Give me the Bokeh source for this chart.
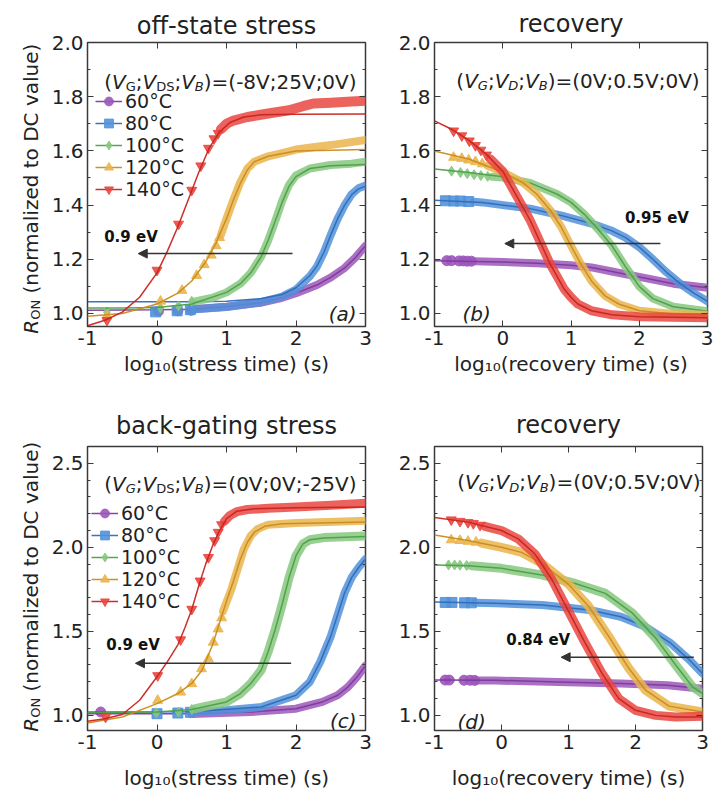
import math
from bokeh.plotting import figure
from bokeh.models import (Range1d, FixedTicker, LinearAxis, Label, Arrow, NormalHead,
                          Legend, LegendItem, PrintfTickFormatter)
from bokeh.layouts import column, row
from bokeh.embed import file_html
from bokeh.resources import INLINE

# ---------------- data ----------------
TEMPS = ["60°C", "80°C", "100°C", "120°C", "140°C"]
COLORS = ["#9C57BA", "#5292DA", "#86C87F", "#EAB54E", "#E9473F"]
FIT_COLORS = ["#7B3B9C", "#2E6DB8", "#4F9E4B", "#C98C1C", "#C9231E"]
MARKERS = ["circle", "square", "diamond", "triangle", "inverted_triangle"]

X_TICKS = [-1, 0, 1, 2, 3]
Y_TICKS_TOP = [1.0, 1.2, 1.4, 1.6, 1.8, 2.0]
Y_MINOR_TOP = [1.1, 1.3, 1.5, 1.7, 1.9]
Y_TICKS_BOT = [1.0, 1.5, 2.0, 2.5]
Y_MINOR_BOT = [1.1, 1.2, 1.3, 1.4, 1.6, 1.7, 1.8, 1.9, 2.1, 2.2, 2.3, 2.4]

# (a) off-state stress
A60_FIT = [(-1, 1.012), (0, 1.014), (0.5, 1.016), (1.0, 1.025), (1.5, 1.04), (1.8, 1.058), (2.0, 1.075),
           (2.3, 1.105), (2.5, 1.133), (2.7, 1.168), (2.85, 1.205), (3.0, 1.25)]
A60_MARK = [(0.02, 1.008), (0.3, 1.01), (0.49, 1.012)]
A60_BAND = [(0.5, 1.016), (1.0, 1.025), (1.5, 1.04), (1.8, 1.058), (2.0, 1.075), (2.3, 1.105), (2.5, 1.133),
            (2.7, 1.168), (2.85, 1.205), (3.0, 1.25)]
A80_FIT = [(-1, 1.043), (0.5, 1.043), (1.0, 1.045), (1.5, 1.055), (1.8, 1.07), (2.0, 1.095), (2.2, 1.14),
           (2.3, 1.175), (2.4, 1.225), (2.5, 1.29), (2.6, 1.35), (2.7, 1.4), (2.8, 1.438), (2.9, 1.46), (3.0, 1.47)]
A80_MARK = [(-0.02, 1.006), (0.29, 1.01), (0.48, 1.014)]
A80_BAND = [(0.55, 1.016), (1.0, 1.024), (1.5, 1.042), (1.8, 1.062), (2.0, 1.088), (2.2, 1.138), (2.3, 1.172),
            (2.4, 1.225), (2.5, 1.29), (2.6, 1.35), (2.7, 1.4), (2.8, 1.44), (2.9, 1.462), (3.0, 1.472)]
A100_FIT = [(-1, 1.02), (-0.5, 1.02), (0, 1.022), (0.5, 1.035), (1.0, 1.078), (1.2, 1.11), (1.35, 1.15),
            (1.5, 1.21), (1.6, 1.27), (1.7, 1.34), (1.8, 1.41), (1.9, 1.47), (2.0, 1.505), (2.2, 1.535),
            (2.5, 1.545), (3.0, 1.55)]
A100_MARK = [(-0.72, 1.005), (0.05, 1.02), (0.31, 1.028), (0.5, 1.045)]
A100_BAND = [(0.55, 1.045), (0.8, 1.058), (1.0, 1.078), (1.2, 1.11), (1.35, 1.15), (1.5, 1.21), (1.6, 1.27),
             (1.7, 1.34), (1.8, 1.415), (1.9, 1.475), (2.0, 1.51), (2.2, 1.535), (2.5, 1.548), (2.8, 1.553),
             (3.0, 1.56)]
A120_FIT = [(-1, 0.99), (-0.5, 1.0), (0, 1.035), (0.3, 1.075), (0.5, 1.12), (0.7, 1.19), (0.85, 1.26),
            (1.0, 1.35), (1.1, 1.42), (1.2, 1.48), (1.3, 1.53), (1.4, 1.56), (1.6, 1.58), (2.0, 1.6), (3.0, 1.605)]
A120_MARK = [(-0.72, 0.99), (0.05, 1.045), (0.36, 1.085), (0.57, 1.14), (0.68, 1.18), (0.78, 1.215),
             (0.85, 1.25), (0.9, 1.28)]
A120_BAND = [(0.92, 1.29), (1.0, 1.35), (1.1, 1.42), (1.2, 1.485), (1.3, 1.535), (1.4, 1.56), (1.6, 1.58),
             (1.8, 1.592), (2.0, 1.605), (2.3, 1.615), (2.6, 1.625), (3.0, 1.64)]
A140_FIT = [(-1, 0.955), (-0.75, 0.975), (-0.5, 1.005), (-0.25, 1.06), (0, 1.15), (0.15, 1.23), (0.3, 1.32),
            (0.45, 1.42), (0.6, 1.52), (0.75, 1.61), (0.9, 1.67), (1.05, 1.705), (1.25, 1.725), (1.5, 1.733),
            (2.0, 1.735), (3.0, 1.736)]
A140_MARK = [(-0.72, 0.975), (0.0, 1.16), (0.31, 1.33), (0.5, 1.455), (0.63, 1.545), (0.74, 1.61),
             (0.82, 1.645), (0.88, 1.665)]
A140_BAND = [(0.92, 1.68), (1.0, 1.7), (1.1, 1.712), (1.3, 1.725), (1.6, 1.738), (1.9, 1.75), (2.1, 1.765),
             (2.25, 1.775), (2.5, 1.778), (2.8, 1.782), (3.0, 1.785)]

# (b) recovery after off-state stress
B60_FIT = [(-1, 1.195), (0, 1.19), (0.5, 1.185), (1.0, 1.178), (1.3, 1.17), (1.6, 1.155), (2.0, 1.135),
           (2.5, 1.11), (3.0, 1.095)]
B60_MARK = [(-0.82, 1.195), (-0.75, 1.195), (-0.64, 1.194), (-0.58, 1.194), (-0.52, 1.193), (-0.46, 1.193)]
B60_BAND = [(-0.42, 1.193), (0, 1.19), (0.5, 1.185), (1.0, 1.178), (1.3, 1.17), (1.6, 1.155), (2.0, 1.135),
            (2.5, 1.11), (3.0, 1.095)]
B80_FIT = [(-1, 1.418), (-0.3, 1.41), (0.4, 1.387), (0.85, 1.362), (1.3, 1.332), (1.6, 1.305), (1.8, 1.28),
           (2.0, 1.245), (2.2, 1.2), (2.4, 1.152), (2.6, 1.11), (2.8, 1.075), (3.0, 1.045)]
B80_MARK = [(-0.84, 1.416), (-0.72, 1.415), (-0.62, 1.415), (-0.5, 1.413)]
B80_BAND = [(-0.42, 1.412), (-0.3, 1.41), (0.4, 1.387), (0.85, 1.362), (1.3, 1.332), (1.6, 1.305), (1.8, 1.28),
            (2.0, 1.245), (2.2, 1.2), (2.4, 1.152), (2.6, 1.11), (2.8, 1.075), (3.0, 1.045)]
B100_FIT = [(-1, 1.533), (-0.5, 1.52), (0, 1.505), (0.4, 1.482), (0.8, 1.44), (1.0, 1.41), (1.2, 1.365),
            (1.4, 1.31), (1.6, 1.25), (1.8, 1.172), (2.0, 1.1), (2.2, 1.055), (2.5, 1.025), (3.0, 1.008)]
B100_MARK = [(-0.75, 1.525), (-0.62, 1.52), (-0.52, 1.516), (-0.42, 1.512), (-0.32, 1.509), (-0.22, 1.506)]
B100_BAND = [(-0.15, 1.505), (0, 1.502), (0.4, 1.482), (0.8, 1.44), (1.0, 1.41), (1.2, 1.365), (1.4, 1.31),
             (1.6, 1.25), (1.8, 1.172), (2.0, 1.1), (2.2, 1.055), (2.5, 1.025), (3.0, 1.008)]
B120_FIT = [(-1, 1.6), (-0.5, 1.57), (0, 1.522), (0.3, 1.482), (0.5, 1.44), (0.7, 1.38), (0.85, 1.322),
            (1.0, 1.25), (1.15, 1.18), (1.3, 1.12), (1.5, 1.065), (1.7, 1.035), (2.0, 1.01), (2.5, 0.998),
            (3.0, 0.995)]
B120_MARK = [(-0.72, 1.576), (-0.6, 1.572), (-0.5, 1.566), (-0.4, 1.56), (-0.3, 1.552)]
B120_BAND = [(-0.22, 1.545), (0, 1.522), (0.3, 1.482), (0.5, 1.44), (0.7, 1.38), (0.85, 1.322), (1.0, 1.25),
             (1.15, 1.18), (1.3, 1.12), (1.5, 1.065), (1.7, 1.035), (2.0, 1.01), (2.5, 0.998), (3.0, 0.995)]
B140_FIT = [(-1, 1.711), (-0.75, 1.68), (-0.5, 1.64), (-0.25, 1.59), (0, 1.525), (0.1, 1.48), (0.2, 1.435),
            (0.3, 1.39), (0.4, 1.345), (0.5, 1.29), (0.6, 1.235), (0.7, 1.18), (0.8, 1.135), (0.9, 1.09),
            (1.0, 1.06), (1.1, 1.035), (1.3, 1.01), (1.6, 0.995), (2.0, 0.988), (3.0, 0.984)]
B140_MARK = [(-0.72, 1.674), (-0.6, 1.656), (-0.49, 1.637), (-0.4, 1.62), (-0.32, 1.603), (-0.24, 1.585)]
B140_BAND = [(-0.18, 1.57), (0, 1.525), (0.1, 1.48), (0.2, 1.435), (0.3, 1.39), (0.4, 1.345), (0.5, 1.29),
             (0.6, 1.235), (0.7, 1.18), (0.8, 1.135), (0.9, 1.09), (1.0, 1.06), (1.1, 1.035), (1.3, 1.01),
             (1.6, 0.995), (2.0, 0.988), (3.0, 0.984)]

# (c) back-gating stress
C60_FIT = [(-1, 1.01), (0.5, 1.01), (1.35, 1.02), (2.0, 1.04), (2.38, 1.08), (2.6, 1.12), (2.75, 1.17),
           (2.88, 1.23), (3.0, 1.296)]
C60_MARK = [(-0.81, 1.02)]
C60_BAND = [(0.5, 1.008), (1.35, 1.02), (2.0, 1.04), (2.38, 1.08), (2.6, 1.12), (2.75, 1.17), (2.88, 1.23),
            (3.0, 1.296)]
C80_FIT = [(-1, 1.02), (0.5, 1.022), (1.5, 1.05), (2.0, 1.12), (2.2, 1.2), (2.35, 1.32), (2.5, 1.47),
           (2.6, 1.6), (2.7, 1.73), (2.8, 1.82), (2.9, 1.88), (3.0, 1.93)]
C80_MARK = [(0.0, 1.01), (0.3, 1.014), (0.48, 1.018)]
C80_BAND = [(0.55, 1.02), (1.0, 1.03), (1.5, 1.05), (2.0, 1.12), (2.2, 1.2), (2.35, 1.32), (2.5, 1.47),
            (2.6, 1.6), (2.7, 1.73), (2.8, 1.82), (2.9, 1.88), (3.0, 1.93)]
C100_FIT = [(-1, 1.015), (0, 1.02), (0.5, 1.035), (1.0, 1.08), (1.2, 1.13), (1.35, 1.19), (1.5, 1.27),
            (1.6, 1.38), (1.7, 1.51), (1.8, 1.66), (1.9, 1.82), (2.0, 1.95), (2.1, 2.02), (2.2, 2.045),
            (2.4, 2.055), (3.0, 2.065)]
C100_MARK = [(-0.01, 1.015), (0.31, 1.02), (0.5, 1.035)]
C100_BAND = [(0.55, 1.04), (1.0, 1.08), (1.2, 1.13), (1.35, 1.19), (1.5, 1.27), (1.6, 1.38), (1.7, 1.51),
             (1.8, 1.66), (1.9, 1.82), (2.0, 1.95), (2.1, 2.02), (2.2, 2.045), (2.4, 2.058), (3.0, 2.068)]
C120_FIT = [(-1, 0.955), (-0.5, 0.99), (0, 1.07), (0.3, 1.13), (0.5, 1.19), (0.65, 1.27), (0.8, 1.42),
            (0.9, 1.55), (1.0, 1.68), (1.1, 1.8), (1.2, 1.93), (1.3, 2.03), (1.4, 2.09), (1.55, 2.125),
            (1.8, 2.14), (3.0, 2.15)]
C120_MARK = [(0.01, 1.089), (0.34, 1.138), (0.5, 1.188), (0.64, 1.277), (0.74, 1.336), (0.81, 1.435),
             (0.88, 1.514), (0.93, 1.58)]
C120_BAND = [(0.95, 1.62), (1.07, 1.75), (1.16, 1.87), (1.25, 1.99), (1.35, 2.07), (1.45, 2.11),
             (1.6, 2.135), (2.0, 2.145), (3.0, 2.158)]
C140_FIT = [(-1, 0.965), (-0.75, 0.98), (-0.5, 1.005), (-0.25, 1.09), (0, 1.23), (0.15, 1.32), (0.3, 1.42),
            (0.4, 1.52), (0.5, 1.63), (0.6, 1.77), (0.7, 1.9), (0.8, 2.01), (0.9, 2.1), (1.0, 2.17),
            (1.15, 2.215), (1.4, 2.23), (2.0, 2.235), (3.0, 2.24)]
C140_MARK = [(-0.74, 0.99), (0.01, 1.237), (0.34, 1.45), (0.5, 1.632), (0.62, 1.8), (0.74, 1.94),
             (0.83, 2.04), (0.88, 2.09), (0.93, 2.135)]
C140_BAND = [(0.97, 2.155), (1.05, 2.19), (1.15, 2.212), (1.3, 2.225), (1.6, 2.232), (2.0, 2.24),
             (2.5, 2.25), (3.0, 2.262)]

# (d) recovery after back-gating stress
D60_FIT = [(-1, 1.21), (-0.09, 1.209), (0.84, 1.199), (1.78, 1.189), (2.48, 1.179), (3.0, 1.159)]
D60_MARK = [(-0.84, 1.21), (-0.78, 1.21), (-0.56, 1.209), (-0.47, 1.209), (-0.4, 1.208)]
D60_BAND = [(-0.36, 1.208), (-0.09, 1.207), (0.84, 1.199), (1.78, 1.189), (2.48, 1.179), (3.0, 1.159)]
D80_FIT = [(-1, 1.675), (-0.09, 1.667), (0.61, 1.657), (1.31, 1.627), (1.78, 1.587), (2.15, 1.527),
           (2.53, 1.428), (2.81, 1.328), (3.0, 1.249)]
D80_MARK = [(-0.84, 1.672), (-0.74, 1.672), (-0.55, 1.67), (-0.45, 1.67)]
D80_BAND = [(-0.4, 1.67), (-0.09, 1.667), (0.61, 1.657), (1.31, 1.627), (1.78, 1.587), (2.15, 1.527),
            (2.53, 1.428), (2.81, 1.328), (3.0, 1.249)]
D100_FIT = [(-1, 1.895), (-0.5, 1.89), (0, 1.875), (0.6, 1.836), (1.1, 1.785), (1.55, 1.726), (1.95, 1.61),
            (2.3, 1.46), (2.6, 1.3), (2.85, 1.17), (3.0, 1.13)]
D100_MARK = [(-0.79, 1.895), (-0.7, 1.895), (-0.62, 1.894), (-0.52, 1.892)]
D100_BAND = [(-0.45, 1.89), (0, 1.875), (0.6, 1.836), (1.1, 1.785), (1.55, 1.726), (1.95, 1.61),
             (2.3, 1.46), (2.6, 1.3), (2.85, 1.17), (3.0, 1.13)]
D120_FIT = [(-1, 2.074), (-0.5, 2.04), (0, 2.0), (0.3, 1.97), (0.6, 1.905), (1.0, 1.78), (1.3, 1.65),
            (1.6, 1.47), (1.9, 1.28), (2.15, 1.15), (2.5, 1.055), (3.0, 1.02)]
D120_MARK = [(-0.75, 2.044), (-0.62, 2.04), (-0.5, 2.035), (-0.38, 2.03)]
D120_BAND = [(-0.3, 2.025), (0, 2.0), (0.3, 1.97), (0.6, 1.905), (1.0, 1.78), (1.3, 1.65), (1.6, 1.47),
             (1.9, 1.28), (2.15, 1.15), (2.5, 1.055), (3.0, 1.02)]
D140_FIT = [(-1, 2.178), (-0.5, 2.15), (0, 2.1), (0.25, 2.05), (0.5, 1.96), (0.75, 1.81), (1.0, 1.62),
            (1.25, 1.43), (1.5, 1.25), (1.75, 1.1), (2.0, 1.03), (2.3, 1.0), (2.6, 0.99), (3.0, 0.99)]
D140_MARK = [(-0.75, 2.164), (-0.62, 2.155), (-0.5, 2.148), (-0.42, 2.142), (-0.32, 2.132)]
D140_BAND = [(-0.25, 2.125), (0, 2.1), (0.25, 2.05), (0.5, 1.96), (0.75, 1.81), (1.0, 1.62), (1.25, 1.43),
             (1.5, 1.25), (1.75, 1.1), (2.0, 1.03), (2.3, 1.0), (2.6, 0.99), (3.0, 0.995)]

# ---------------- styling helpers ----------------
FONT = "DejaVu Sans"
INK = "#222222"
FRAME = "#3a3a3a"

# DejaVu Sans advance widths (em)
W = {" ": .318, "(": .390, ")": .390, "-": .361, ".": .318, ";": .337, "=": .838,
     "0": .636, "1": .636, "2": .636, "5": .636, "8": .636,
     "B": .686, "C": .698, "D": .770, "G": .776, "N": .748, "O": .787, "R": .695, "S": .635, "V": .684,
     "a": .613, "c": .550, "d": .635, "e": .615, "g": .635, "i": .278, "l": .278, "m": .974, "n": .634,
     "o": .612, "r": .411, "s": .521, "t": .392, "u": .634, "v": .592, "y": .592, "z": .525}


def text_w(s, fs):
    return sum(W.get(c, 0.6) for c in s) * fs


def rich(p, pieces, x, y, units=("data", "data"), size=20, angle=0.0, align="left", color=INK):
    """pieces: (text, style) with style n (normal), i (italic), s (subscript), si (italic subscript)."""
    sizes = [size * 0.65 if st.startswith("s") else size for _, st in pieces]
    total = sum(text_w(t, fs) for (t, _), fs in zip(pieces, sizes))
    off = -total / 2 if align == "center" else 0.0
    for (t, st), fs in zip(pieces, sizes):
        lead = len(t) - len(t.lstrip(" "))
        off += lead * W[" "] * fs
        t2 = t.lstrip(" ")
        dy = -size * 0.24 if st.startswith("s") else 0.0
        if angle == 0:
            xo, yo = off, dy
        else:
            xo, yo = -dy, off
        p.add_layout(Label(x=x, y=y, x_units=units[0], y_units=units[1], text=t2,
                           x_offset=xo, y_offset=yo, angle=angle, text_font=FONT,
                           text_font_size=f"{fs:.1f}px",
                           text_font_style="italic" if st.endswith("i") else "normal",
                           text_color=color, text_align="left", text_baseline="alphabetic"))
        off += text_w(t2, fs)


def style_axis(ax, show_labels=True):
    ax.axis_line_color = None
    ax.major_tick_in = 6
    ax.major_tick_out = 0
    ax.minor_tick_in = 3
    ax.minor_tick_out = 0
    ax.major_tick_line_color = FRAME
    ax.minor_tick_line_color = FRAME
    ax.major_tick_line_width = 1
    ax.minor_tick_line_width = 1
    if show_labels:
        ax.major_label_text_font = FONT
        ax.major_label_text_font_size = "20px"
        ax.major_label_text_color = INK
        ax.major_label_standoff = 4
    else:
        ax.major_label_text_font_size = "1px"
        ax.major_label_text_color = None
        ax.major_label_text_alpha = 0
        ax.major_label_standoff = 0


def make_panel(width, height, borders, yr, yticks, yminor, ttl, ttl_standoff, xlabel, xl_standoff):
    bl, br, bt, bb = borders
    p = figure(width=width, height=height, x_range=Range1d(-1, 3), y_range=Range1d(*yr),
               output_backend="svg", toolbar_location=None,
               min_border_left=bl, min_border_right=br, min_border_top=bt, min_border_bottom=bb)
    p.xgrid.visible = False
    p.ygrid.visible = False
    p.outline_line_color = FRAME
    p.outline_line_width = 1.5
    p.background_fill_color = "white"
    p.border_fill_color = "white"
    bax = p.below[0]
    lax = p.left[0]
    bax.ticker = FixedTicker(ticks=X_TICKS, minor_ticks=[])
    lax.ticker = FixedTicker(ticks=yticks, minor_ticks=yminor)
    bax.formatter = PrintfTickFormatter(format="%d")
    lax.formatter = PrintfTickFormatter(format="%.1f")
    style_axis(bax)
    style_axis(lax)
    rax = LinearAxis(ticker=FixedTicker(ticks=yticks, minor_ticks=yminor))
    style_axis(rax, show_labels=False)
    p.add_layout(rax, "right")
    tax = LinearAxis(ticker=FixedTicker(ticks=X_TICKS, minor_ticks=[]))
    style_axis(tax, show_labels=False)
    p.add_layout(tax, "above")
    p.title.text = ttl
    p.title.align = "center"
    p.title.text_font = FONT
    p.title.text_font_size = "24px"
    p.title.text_font_style = "normal"
    p.title.text_color = INK
    p.title.standoff = ttl_standoff
    bax.axis_label = xlabel
    bax.axis_label_text_font = FONT
    bax.axis_label_text_font_size = "20px"
    bax.axis_label_text_font_style = "normal"
    bax.axis_label_text_color = INK
    bax.axis_label_standoff = xl_standoff
    return p


def xy(pts):
    return [a for a, _ in pts], [b for _, b in pts]


def draw_series(p, series, band_w):
    out = []
    for i, (fit, mark, band) in enumerate(series):
        bx, by = xy(band)
        p.line(bx, by, line_width=band_w[i], color=COLORS[i], alpha=0.85,
               line_cap="round", line_join="round")
        mx, my = xy(mark)
        sr = p.scatter(mx, my, marker=MARKERS[i], size=10, fill_color=COLORS[i],
                       line_color=COLORS[i], alpha=0.9)
        fx, fy = xy(fit)
        lr = p.line(fx, fy, line_width=1.5, color=FIT_COLORS[i], alpha=0.95)
        out.append((lr, sr))
    return out


def add_legend(p, rends, loc):
    items = [LegendItem(label=t, renderers=[lr, sr]) for t, (lr, sr) in zip(TEMPS, rends)]
    leg = Legend(items=items, location=loc, label_text_font=FONT, label_text_font_size="19px",
                 label_text_color=INK, glyph_width=27, glyph_height=22, label_height=22,
                 spacing=-1, padding=0, margin=0, label_standoff=3,
                 background_fill_alpha=0, border_line_alpha=0)
    p.add_layout(leg)


def tag(p, text, x, y, align):
    p.add_layout(Label(x=x, y=y, x_units="screen", y_units="screen", text=text, text_align=align,
                       text_baseline="alphabetic", text_font=FONT, text_font_size="20px",
                       text_font_style="italic", text_color=INK))


def arrow(p, x0, x1, yv, label, lx, ly):
    p.add_layout(Arrow(end=NormalHead(size=9, fill_color="#333333", line_color="#333333"),
                       x_start=x0, y_start=yv, x_end=x1, y_end=yv,
                       line_color="#333333", line_width=1.5))
    p.add_layout(Label(x=lx, y=ly, text=label, text_align="left", text_baseline="middle",
                       text_font=FONT, text_font_size="15px", text_font_style="bold", text_color="#111111"))


def ylabel_strip(height, center):
    f = figure(width=48, height=height, x_range=Range1d(0, 1), y_range=Range1d(0, 1),
               x_axis_type=None, y_axis_type=None, output_backend="svg", toolbar_location=None,
               min_border=0, frame_align=False)
    f.outline_line_color = None
    f.background_fill_color = "white"
    f.border_fill_color = "white"
    f.xgrid.visible = False
    f.ygrid.visible = False
    rich(f, YLABEL, 30, center, units=("screen", "screen"), angle=math.pi / 2, align="center")
    return f


YLABEL = [("R", "i"), ("ON", "s"), (" (normalized to DC value)", "n")]
X_STRESS = "log\u2081\u2080(stress time) (s)"
X_RECOV = "log\u2081\u2080(recovery time) (s)"

# ---------- (a) ----------
pa = make_panel(347, 386, (35, 30, 42, 60), (0.952, 2.0), Y_TICKS_TOP, Y_MINOR_TOP,
                "off-state stress", 6, X_STRESS, 4)
ra = draw_series(pa, [(A60_FIT, A60_MARK, A60_BAND), (A80_FIT, A80_MARK, A80_BAND),
                      (A100_FIT, A100_MARK, A100_BAND), (A120_FIT, A120_MARK, A120_BAND),
                      (A140_FIT, A140_MARK, A140_BAND)], [8, 8, 8, 8, 10])
add_legend(pa, ra, (8, 126))
rich(pa, [("(", "n"), ("V", "i"), ("G", "s"), (";", "n"), ("V", "i"), ("DS", "s"), (";", "n"),
          ("V", "i"), ("B", "si"), (")=(-8V;25V;0V)", "n")], -0.76, 1.856)
arrow(pa, 1.95, -0.27, 1.221, "0.9 eV", -0.76, 1.284)
tag(pa, "(a)", 282 - 13, 13, "right")

# ---------- (b) ----------
pb = make_panel(318, 386, (32, 6, 42, 60), (0.952, 2.0), Y_TICKS_TOP, Y_MINOR_TOP,
                "recovery", 10, X_RECOV, 4)
draw_series(pb, [(B60_FIT, B60_MARK, B60_BAND), (B80_FIT, B80_MARK, B80_BAND),
                 (B100_FIT, B100_MARK, B100_BAND), (B120_FIT, B120_MARK, B120_BAND),
                 (B140_FIT, B140_MARK, B140_BAND)], [8, 8, 8, 8, 9])
rich(pb, [("(", "n"), ("V", "i"), ("G", "si"), (";", "n"), ("V", "i"), ("D", "si"), (";", "n"),
          ("V", "i"), ("B", "si"), (")=(0V;0.5V;0V)", "n")], -0.68, 1.858)
arrow(pb, 2.31, 0.03, 1.258, "0.95 eV", 1.79, 1.354)
tag(pb, "(b)", 28, 13, "left")

# ---------- (c) ----------
pc = make_panel(347, 407, (35, 30, 60, 63), (0.91, 2.6), Y_TICKS_BOT, Y_MINOR_BOT,
                "back-gating stress", 14, X_STRESS, 14)
rc = draw_series(pc, [(C60_FIT, C60_MARK, C60_BAND), (C80_FIT, C80_MARK, C80_BAND),
                      (C100_FIT, C100_MARK, C100_BAND), (C120_FIT, C120_MARK, C120_BAND),
                      (C140_FIT, C140_MARK, C140_BAND)], [8, 8, 9, 8, 9])
add_legend(pc, rc, (4, 118))
rich(pc, [("(", "n"), ("V", "i"), ("G", "si"), (";", "n"), ("V", "i"), ("DS", "s"), (";", "n"),
          ("V", "i"), ("B", "si"), (")=(0V;0V;-25V)", "n")], -0.76, 2.378)
arrow(pc, 1.93, -0.31, 1.31, "0.9 eV", -0.73, 1.42)
tag(pc, "(c)", 282 - 13, 10, "right")

# ---------- (d) ----------
pd_ = make_panel(318, 407, (27, 11, 60, 63), (0.91, 2.6), Y_TICKS_BOT, Y_MINOR_BOT,
                 "recovery", 15, X_RECOV, 14)
draw_series(pd_, [(D60_FIT, D60_MARK, D60_BAND), (D80_FIT, D80_MARK, D80_BAND),
                  (D100_FIT, D100_MARK, D100_BAND), (D120_FIT, D120_MARK, D120_BAND),
                  (D140_FIT, D140_MARK, D140_BAND)], [8, 8, 9, 9, 9])
rich(pd_, [("(", "n"), ("V", "i"), ("G", "si"), (";", "n"), ("V", "i"), ("D", "si"), (";", "n"),
           ("V", "i"), ("B", "si"), (")=(0V;0.5V;0V)", "n")], -0.66, 2.386)
arrow(pd_, 2.87, 0.89, 1.346, "0.84 eV", 0.07, 1.45)
tag(pd_, "(d)", 23, 9, "left")

ya = ylabel_strip(386, 386 - 188)
yc = ylabel_strip(407, 407 - 200)

layout = column(row(ya, pa, pb), row(yc, pc, pd_))
html = file_html(layout, INLINE, "RON stress and recovery")
with open("out.html", "w") as f:
    f.write(html)
